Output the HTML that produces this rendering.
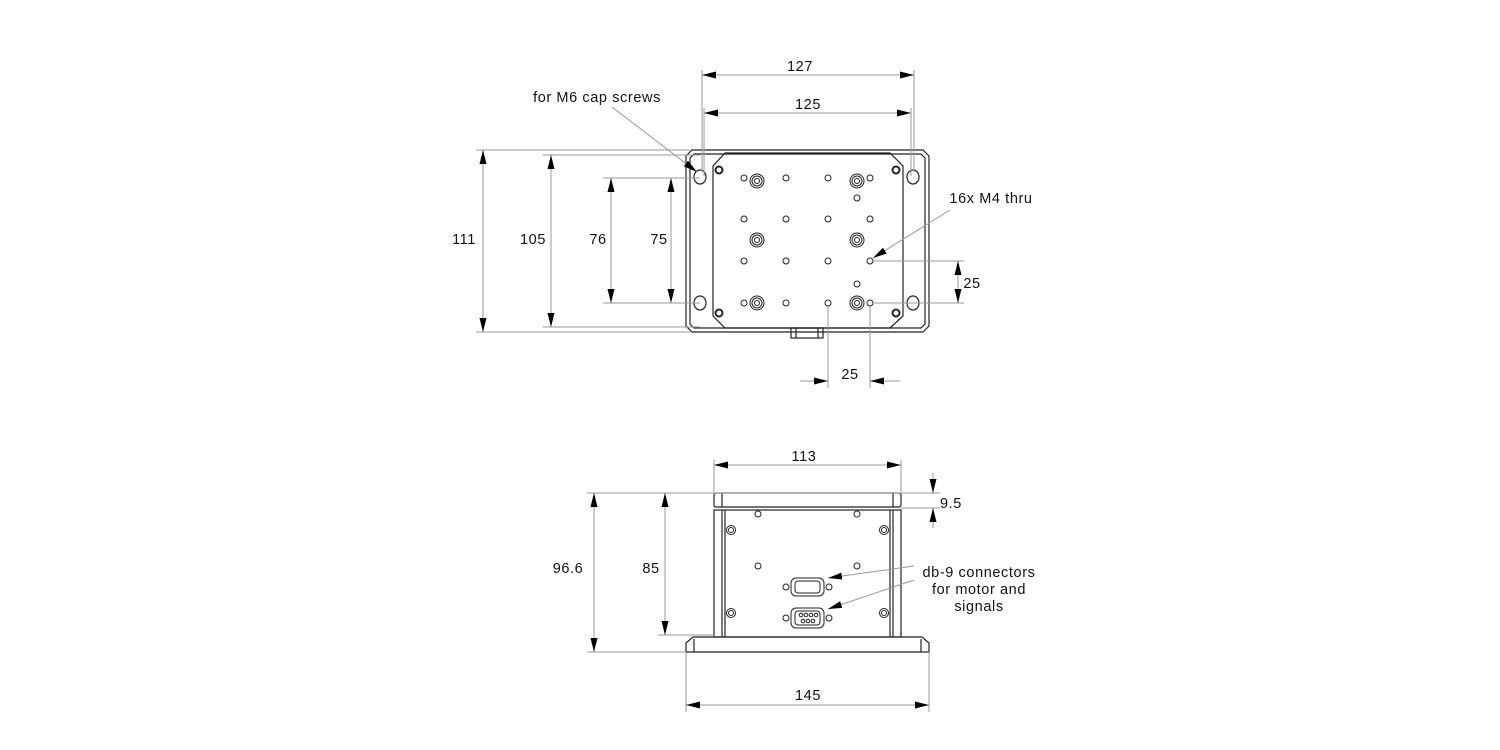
<!DOCTYPE html>
<html><head><meta charset="utf-8"><style>
html,body{margin:0;padding:0;background:#fff;}
svg{display:block;font-family:"Liberation Sans",sans-serif;}
.o{fill:none;stroke:#222;stroke-width:1.2}
.d{fill:none;stroke:#999;stroke-width:1}
.a{fill:none;stroke:#999;stroke-width:1;marker-start:url(#ar);marker-end:url(#ar)}
.a1{fill:none;stroke:#999;stroke-width:1;marker-end:url(#ar)}
text{font-size:14.5px;fill:#111;letter-spacing:0.6px}
</style></head><body>
<svg width="1500" height="750" viewBox="0 0 1500 750">
<defs>
<marker id="ar" viewBox="0 0 14 7" refX="14" refY="3.5" markerWidth="14" markerHeight="7" markerUnits="userSpaceOnUse" orient="auto-start-reverse"><path d="M0,0L14,3.5L0,7z" fill="#000"/></marker>
</defs>

<!-- TOP VIEW -->
<path class="o" d="M692,150 L923,150 L929,156 L929,326 L923,332 L692,332 L686,326 L686,156 Z"/>
<path class="o" d="M694,154 L921,154 L925,158 L925,324 L921,328 L694,328 L690,324 L690,158 Z"/>
<path class="o" d="M725,153 L890,153 L903,166 L903,316 L890,328 L725,328 L713,316 L713,166 Z"/>
<rect class="o" x="791" y="328" width="32" height="10"/>
<line class="o" x1="796" y1="328" x2="796" y2="338"/><line class="o" x1="818" y1="328" x2="818" y2="338"/>
<g class="o">
<ellipse cx="700" cy="177" rx="6" ry="7"/><ellipse cx="913" cy="177" rx="6" ry="7"/>
<ellipse cx="700" cy="303" rx="6" ry="7"/><ellipse cx="913" cy="303" rx="6" ry="7"/>
</g>
<g fill="none" stroke="#222" stroke-width="2">
<circle cx="719" cy="170" r="3.5"/><circle cx="896" cy="170" r="3.5"/>
<circle cx="719" cy="313" r="3.5"/><circle cx="896" cy="313" r="3.5"/>
</g>
<g class="o" style="stroke-width:1">
<circle cx="786" cy="178" r="3"/><circle cx="828" cy="178" r="3"/>
<circle cx="744" cy="178" r="3"/><circle cx="870" cy="178" r="3"/>
<circle cx="857" cy="198" r="3"/>
<circle cx="744" cy="219" r="3"/><circle cx="786" cy="219" r="3"/><circle cx="828" cy="219" r="3"/><circle cx="870" cy="219" r="3"/>
<circle cx="744" cy="261" r="3"/><circle cx="786" cy="261" r="3"/><circle cx="828" cy="261" r="3"/><circle cx="870" cy="261" r="3"/>
<circle cx="857" cy="284" r="3"/>
<circle cx="744" cy="303" r="3"/><circle cx="786" cy="303" r="3"/><circle cx="828" cy="303" r="3"/><circle cx="870" cy="303" r="3"/>
</g>
<g class="o" style="stroke-width:1">
<g transform="translate(757,181)"><circle r="7"/><circle r="5"/><circle r="2.5"/></g>
<g transform="translate(857,181)"><circle r="7"/><circle r="5"/><circle r="2.5"/></g>
<g transform="translate(757,240)"><circle r="7"/><circle r="5"/><circle r="2.5"/></g>
<g transform="translate(857,240)"><circle r="7"/><circle r="5"/><circle r="2.5"/></g>
<g transform="translate(757,303)"><circle r="7"/><circle r="5"/><circle r="2.5"/></g>
<g transform="translate(857,303)"><circle r="7"/><circle r="5"/><circle r="2.5"/></g>
</g>

<!-- top dims -->
<line class="d" x1="702" y1="70" x2="702" y2="172"/><line class="d" x1="914" y1="70" x2="914" y2="172"/>
<line class="d" x1="704" y1="108" x2="704" y2="176"/><line class="d" x1="911" y1="108" x2="911" y2="176"/>
<path class="a" d="M702,75 L914,75"/><text x="800" y="71" text-anchor="middle">127</text>
<path class="a" d="M704,113 L911,113"/><text x="808" y="109" text-anchor="middle">125</text>
<line class="d" x1="476" y1="150" x2="690" y2="150"/><line class="d" x1="476" y1="332" x2="690" y2="332"/>
<line class="d" x1="543" y1="155" x2="700" y2="155"/><line class="d" x1="543" y1="327" x2="700" y2="327"/>
<line class="d" x1="603" y1="178" x2="700" y2="178"/><line class="d" x1="603" y1="303" x2="700" y2="303"/>
<path class="a" d="M483,150 L483,332"/><text x="464" y="244" text-anchor="middle">111</text>
<path class="a" d="M551,155 L551,327"/><text x="533" y="244" text-anchor="middle">105</text>
<path class="a" d="M611,178 L611,303"/><text x="598" y="244" text-anchor="middle">76</text>
<path class="a" d="M671,178 L671,303"/><text x="659" y="244" text-anchor="middle">75</text>
<line class="d" x1="873" y1="261" x2="964" y2="261"/><line class="d" x1="873" y1="303" x2="964" y2="303"/>
<path class="a" d="M958,261 L958,303"/><text x="972" y="288" text-anchor="middle">25</text>
<line class="d" x1="828" y1="306" x2="828" y2="388"/><line class="d" x1="870" y1="306" x2="870" y2="388"/>
<path class="a1" d="M800,381 L828,381"/><path class="a1" d="M900,381 L870,381"/>
<text x="850" y="379" text-anchor="middle">25</text>
<text x="597" y="102" text-anchor="middle">for M6 cap screws</text>
<path class="a1" d="M612,107 L697,172"/>
<text x="991" y="203" text-anchor="middle">16x M4 thru</text>
<path class="a1" d="M950,210 L873,258"/>

<!-- FRONT VIEW -->
<rect class="o" x="714" y="493" width="187" height="14" rx="2"/>
<line class="o" x1="722" y1="493" x2="722" y2="507"/><line class="o" x1="893" y1="493" x2="893" y2="507"/>
<rect class="o" x="714" y="510" width="187" height="127"/>
<line class="o" x1="722" y1="510" x2="722" y2="637"/><line class="o" x1="893" y1="510" x2="893" y2="637"/>
<line class="o" x1="725" y1="510" x2="725" y2="637"/><line class="o" x1="890" y1="510" x2="890" y2="637"/>
<path class="o" d="M693,637 L922,637 L929,643 L929,652 L686,652 L686,643 Z"/>
<line class="o" x1="694" y1="639" x2="694" y2="652"/><line class="o" x1="921" y1="639" x2="921" y2="652"/>
<g class="o" style="stroke-width:1">
<circle cx="758" cy="514" r="3"/><circle cx="857" cy="514" r="3"/>
<circle cx="758" cy="566" r="3"/><circle cx="857" cy="566" r="3"/>
<circle cx="731" cy="530" r="4.5"/><circle cx="731" cy="530" r="2.5"/>
<circle cx="884" cy="530" r="4.5"/><circle cx="884" cy="530" r="2.5"/>
<circle cx="731" cy="613" r="4.5"/><circle cx="731" cy="613" r="2.5"/>
<circle cx="884" cy="613" r="4.5"/><circle cx="884" cy="613" r="2.5"/>
<circle cx="786" cy="587" r="3"/><circle cx="829" cy="587" r="3"/>
<circle cx="786" cy="618" r="3"/><circle cx="829" cy="618" r="3"/>
<rect x="791" y="578" width="33" height="18" rx="5"/><rect x="795" y="581" width="25" height="12" rx="3"/>
<rect x="791" y="608" width="33" height="20" rx="5"/><rect x="795" y="611" width="25" height="14" rx="3"/>
<circle cx="801" cy="615" r="1.8"/><circle cx="806" cy="615" r="1.8"/><circle cx="811" cy="615" r="1.8"/><circle cx="816" cy="615" r="1.8"/>
<circle cx="803" cy="621" r="1.8"/><circle cx="808" cy="621" r="1.8"/><circle cx="813" cy="621" r="1.8"/>
</g>
<line class="d" x1="714" y1="460" x2="714" y2="492"/><line class="d" x1="901" y1="460" x2="901" y2="492"/>
<path class="a" d="M714,465 L901,465"/><text x="804" y="461" text-anchor="middle">113</text>
<line class="d" x1="587" y1="493" x2="940" y2="493"/><line class="d" x1="901" y1="508" x2="940" y2="508"/>
<path class="a1" d="M933,473 L933,493"/><path class="a1" d="M933,528 L933,508"/>
<text x="951" y="508" text-anchor="middle">9.5</text>
<line class="d" x1="587" y1="652" x2="686" y2="652"/><line class="d" x1="658" y1="635" x2="714" y2="635"/>
<path class="a" d="M594,493 L594,652"/><text x="568" y="573" text-anchor="middle">96.6</text>
<path class="a" d="M665,493 L665,635"/><text x="651" y="573" text-anchor="middle">85</text>
<line class="d" x1="686" y1="652" x2="686" y2="712"/><line class="d" x1="929" y1="652" x2="929" y2="712"/>
<path class="a" d="M686,705 L929,705"/><text x="808" y="700" text-anchor="middle">145</text>
<text x="979" y="577" text-anchor="middle">db-9 connectors</text>
<text x="979" y="594" text-anchor="middle">for motor and</text>
<text x="979" y="611" text-anchor="middle">signals</text>
<path class="a1" d="M914,566 L828,578"/><path class="a1" d="M914,580 L828,609"/>
</svg>
</body></html>
